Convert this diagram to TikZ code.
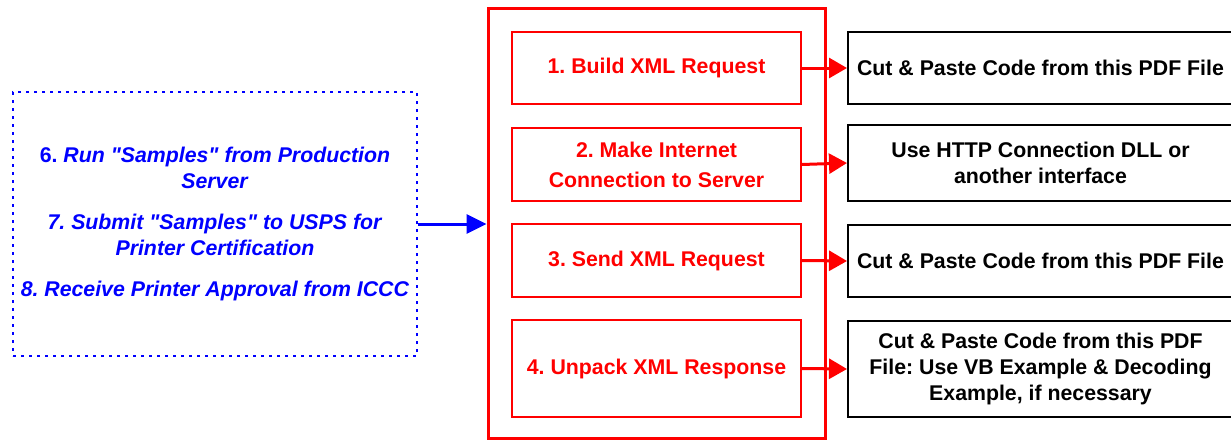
\documentclass[tikz,border=0pt]{standalone}
\usepackage{fontspec}
\setmainfont{Liberation Sans}[Ligatures=TeXOff]
\usetikzlibrary{arrows.meta}
\frenchspacing
\tikzset{
  redbox/.style={draw=red, line width=2pt, text=red, font=\bfseries\fontsize{21.3}{30}\selectfont, align=center, inner sep=0pt, minimum width=289pt},
  blackbox/.style={draw=black, line width=2pt, font=\bfseries\fontsize{21.3}{26}\selectfont, align=center, inner sep=0pt, minimum width=385pt},
  redarrow/.style={draw=red, line width=3pt, -{Triangle[length=18pt,width=20pt]}},
  bluearrow/.style={draw=blue, line width=3pt, -{Triangle[length=20pt,width=19pt]}},
}
\begin{document}
\begin{tikzpicture}[x=1pt,y=-1pt]
\clip (0,0) rectangle (1231,440);
\fill[white] (0,0) rectangle (1231,440);
% outer red frame
\node[draw=red, line width=3pt, minimum width=337pt, minimum height=430pt, inner sep=0pt] (outer) at (656.5,223) {};
% red steps
\node[redbox, minimum height=72pt] (r1) at (656.5,68) {1. Build XML Request};
\node[redbox, minimum height=73pt] (r2) at (656.5,164.5) {2. Make Internet\\Connection to Server};
\node[redbox, minimum height=73pt] (r3) at (656.5,260.5) {3. Send XML Request};
\node[redbox, minimum height=97pt] (r4) at (656.5,368.5) {4. Unpack XML Response};
% black boxes
\node[blackbox, minimum height=72pt] (b1) at (1040.5,68) {Cut \& Paste Code from this PDF File};
\node[blackbox, minimum height=76pt] (b2) at (1040.5,163) {Use HTTP Connection DLL or\\another interface};
\node[blackbox, minimum height=72pt] (b3) at (1040.5,261) {Cut \& Paste Code from this PDF File};
\node[blackbox, minimum height=96pt] (b4) at (1040.5,369) {Cut \& Paste Code from this PDF\\File: Use VB Example \& Decoding\\Example, if necessary};
% blue dotted box
\node[draw=blue, line width=2pt, dash pattern=on 3pt off 5pt, minimum width=404pt, minimum height=264pt, inner sep=0pt,
      text=blue, font=\bfseries\fontsize{21.3}{25.5}\selectfont, align=center] (bl) at (215,224)
  {6. \textit{Run "Samples" from Production}\\\textit{Server}\\[16pt]
   \textit{7. Submit "Samples" to USPS for}\\\textit{Printer Certification}\\[16pt]
   \textit{8. Receive Printer Approval from ICCC}};
% connectors
\draw[redarrow] (r1.east) -- (b1.west);
\draw[redarrow] (r2.east) -- (b2.west);
\draw[redarrow] (r3.east) -- (b3.west);
\draw[redarrow] (r4.east) -- (b4.west);
\draw[bluearrow] (bl.east) -- (bl.east -| outer.west);
\end{tikzpicture}
\end{document}
